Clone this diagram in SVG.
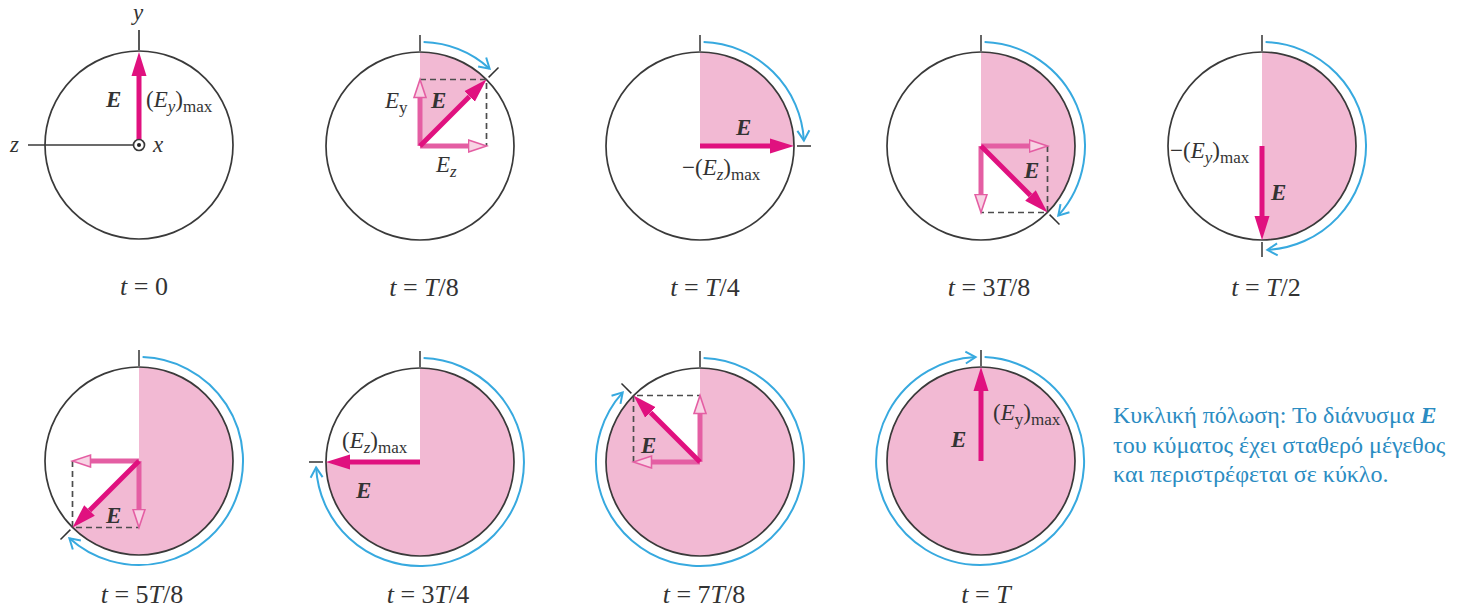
<svg xmlns="http://www.w3.org/2000/svg" width="1458" height="611" viewBox="0 0 1458 611">
<style>
.bg{fill:#ffffff}
.circ{fill:none;stroke:#3a3a3a;stroke-width:1.7}
.pink{fill:#f2b9d3;stroke:none}
.vec{stroke:#e0117f;stroke-width:5;fill:none;marker-end:url(#ah)}
.comp{stroke:#e45ea3;stroke-width:5;fill:none;marker-end:url(#hh)}
.dash{stroke:#4d4d4d;stroke-width:1.7;stroke-dasharray:6 4;fill:none}
.rot{fill:none;stroke:#37a9df;stroke-width:2;marker-end:url(#oh)}
.tick{stroke:#333333;stroke-width:1.5}
.ax{stroke:#3a3a3a;stroke-width:1.7;fill:none}
text{font-family:"Liberation Serif","DejaVu Serif","Times New Roman",serif}
.lbl{font-size:23px;fill:#333333}
.E{font-weight:bold;font-style:italic}
.it{font-style:italic}
.sub{font-size:17px}
.t{font-size:26px;fill:#333333}
.cap{font-size:24px;fill:#2b8cc2}
</style>
<defs>
<marker id="ah" markerUnits="userSpaceOnUse" markerWidth="26" markerHeight="18" viewBox="0 -9 26 18" refX="0" refY="0" orient="auto"><path d="M0,-7.5 L24,0 L0,7.5 Z" fill="#e0117f"/></marker>
<marker id="hh" markerUnits="userSpaceOnUse" markerWidth="22" markerHeight="16" viewBox="-1 -8 22 16" refX="0" refY="0" orient="auto"><path d="M0,-6 L18,0 L0,6 Z" fill="#f8d3e4" stroke="#e45ea3" stroke-width="1.6"/></marker>
<marker id="oh" markerUnits="userSpaceOnUse" markerWidth="16" markerHeight="16" viewBox="-13 -8 16 16" refX="0" refY="0" orient="auto"><path d="M-10,-6 L0,0 L-10,6" fill="none" stroke="#37a9df" stroke-width="2"/></marker>
</defs>
<rect class="bg" x="0" y="0" width="1458" height="611"/>

<g id="panel-t0">
<circle class="circ" cx="139" cy="145" r="94"/>
<line class="ax" x1="28" y1="145" x2="139" y2="145"/>
<line class="ax" x1="139" y1="30" x2="139" y2="50"/>
<line class="vec" x1="139" y1="145" x2="139" y2="76"/>
<circle cx="139" cy="145" r="5.5" fill="#ffffff" stroke="#3a3a3a" stroke-width="1.7"/>
<circle cx="139" cy="145" r="2" fill="#222222"/>
<text class="lbl it" x="133" y="20">y</text>
<text class="lbl it" x="10" y="152">z</text>
<text class="lbl it" x="153" y="152">x</text>
<text class="lbl E" x="106" y="107">E</text>
<text class="lbl" x="146" y="107">(<tspan class="it">E</tspan><tspan class="sub it" dy="5">y</tspan><tspan dy="-5">)</tspan><tspan class="sub" dy="5">max</tspan></text>
<text class="t" x="144" y="295" text-anchor="middle"><tspan class="it">t</tspan> = 0</text>
</g>

<g id="panel-t1">
<path class="pink" d="M420,146 L420,52 A94,94 0 0 1 486.5,79.5 Z"/>
<circle class="circ" cx="420" cy="146" r="94"/>
<path class="dash" d="M420,79.5 H486.5 V146"/>
<line class="comp" x1="420" y1="146" x2="420" y2="97.5"/>
<line class="comp" x1="420" y1="146" x2="468.5" y2="146"/>
<line class="vec" x1="420" y1="146" x2="469.5" y2="96.5"/>
<path class="rot" d="M423.6,42.1 A104,104 0 0 1 489.6,68.7"/>
<line class="tick" x1="420" y1="51" x2="420" y2="35"/>
<line class="tick" x1="488.6" y1="77.4" x2="498.5" y2="67.5"/>
<text class="lbl" x="385" y="108"><tspan class="it">E</tspan><tspan class="sub" dy="5">y</tspan></text>
<text class="lbl E" x="431" y="108">E</text>
<text class="lbl" x="436" y="172"><tspan class="it">E</tspan><tspan class="sub it" dy="5">z</tspan></text>
<text class="t" x="424" y="296" text-anchor="middle"><tspan class="it">t</tspan> = <tspan class="it">T</tspan>/8</text>
</g>

<g id="panel-t2">
<path class="pink" d="M700,146 L700,52 A94,94 0 0 1 794,146 Z"/>
<circle class="circ" cx="700" cy="146" r="94"/>
<line class="vec" x1="700" y1="146" x2="770" y2="146"/>
<path class="rot" d="M703.6,42.1 A104,104 0 0 1 803.9,140.6"/>
<line class="tick" x1="700" y1="51" x2="700" y2="35"/>
<line class="tick" x1="797" y1="146" x2="811" y2="146"/>
<text class="lbl E" x="736" y="135">E</text>
<text class="lbl" x="682" y="175">−(<tspan class="it">E</tspan><tspan class="sub it" dy="5">z</tspan><tspan dy="-5">)</tspan><tspan class="sub" dy="5">max</tspan></text>
<text class="t" x="705" y="296" text-anchor="middle"><tspan class="it">t</tspan> = <tspan class="it">T</tspan>/4</text>
</g>

<g id="panel-t3">
<path class="pink" d="M981,146 L981,52 A94,94 0 0 1 1047.5,212.5 Z"/>
<circle class="circ" cx="981" cy="146" r="94"/>
<path class="dash" d="M1047.5,146 V212.5 H981"/>
<line class="comp" x1="981" y1="146" x2="1029.5" y2="146"/>
<line class="comp" x1="981" y1="146" x2="981" y2="194.5"/>
<line class="vec" x1="981" y1="146" x2="1030.5" y2="195.5"/>
<path class="rot" d="M984.6,42.1 A104,104 0 0 1 1058.3,215.6"/>
<line class="tick" x1="981" y1="51" x2="981" y2="35"/>
<line class="tick" x1="1049.6" y1="214.6" x2="1059.5" y2="224.5"/>
<text class="lbl E" x="1024" y="178">E</text>
<text class="t" x="989" y="296" text-anchor="middle"><tspan class="it">t</tspan> = 3<tspan class="it">T</tspan>/8</text>
</g>

<g id="panel-t4">
<path class="pink" d="M1262,52 A94,94 0 0 1 1262,240 Z"/>
<circle class="circ" cx="1262" cy="146" r="94"/>
<line class="vec" x1="1262" y1="146" x2="1262" y2="216"/>
<path class="rot" d="M1265.6,42.1 A104,104 0 0 1 1267.4,249.9"/>
<line class="tick" x1="1262" y1="51" x2="1262" y2="35"/>
<line class="tick" x1="1262" y1="242" x2="1262" y2="257"/>
<text class="lbl" x="1170" y="158">−(<tspan class="it">E</tspan><tspan class="sub it" dy="5">y</tspan><tspan dy="-5">)</tspan><tspan class="sub" dy="5">max</tspan></text>
<text class="lbl E" x="1271" y="200">E</text>
<text class="t" x="1266" y="296" text-anchor="middle"><tspan class="it">t</tspan> = <tspan class="it">T</tspan>/2</text>
</g>

<g id="panel-t5">
<path class="pink" d="M139,461 L139,367 A94,94 0 1 1 72.5,527.5 Z"/>
<circle class="circ" cx="139" cy="461" r="94"/>
<path class="dash" d="M72.5,461 V527.5 H139"/>
<line class="comp" x1="139" y1="461" x2="90.5" y2="461"/>
<line class="comp" x1="139" y1="461" x2="139" y2="509.5"/>
<line class="vec" x1="139" y1="461" x2="89.5" y2="510.5"/>
<path class="rot" d="M142.6,357.1 A104,104 0 1 1 69.4,538.3"/>
<line class="tick" x1="139" y1="366" x2="139" y2="350"/>
<line class="tick" x1="70.4" y1="529.6" x2="60.5" y2="539.5"/>
<text class="lbl E" x="106" y="523">E</text>
<text class="t" x="142" y="603" text-anchor="middle"><tspan class="it">t</tspan> = 5<tspan class="it">T</tspan>/8</text>
</g>

<g id="panel-t6">
<path class="pink" d="M420,462 L420,368 A94,94 0 1 1 326,462 Z"/>
<circle class="circ" cx="420" cy="462" r="94"/>
<line class="vec" x1="420" y1="462" x2="350" y2="462"/>
<path class="rot" d="M423.6,358.1 A104,104 0 1 1 316.1,467.4"/>
<line class="tick" x1="420" y1="367" x2="420" y2="351"/>
<line class="tick" x1="323" y1="462" x2="309" y2="462"/>
<text class="lbl" x="342" y="448">(<tspan class="it">E</tspan><tspan class="sub it" dy="5">z</tspan><tspan dy="-5">)</tspan><tspan class="sub" dy="5">max</tspan></text>
<text class="lbl E" x="356" y="498">E</text>
<text class="t" x="428" y="603" text-anchor="middle"><tspan class="it">t</tspan> = 3<tspan class="it">T</tspan>/4</text>
</g>

<g id="panel-t7">
<path class="pink" d="M700,462 L700,368 A94,94 0 1 1 633.5,395.5 Z"/>
<circle class="circ" cx="700" cy="462" r="94"/>
<path class="dash" d="M633.5,462 V395.5 H700"/>
<line class="comp" x1="700" y1="462" x2="651.5" y2="462"/>
<line class="comp" x1="700" y1="462" x2="700" y2="413.5"/>
<line class="vec" x1="700" y1="462" x2="650.5" y2="412.5"/>
<path class="rot" d="M703.6,358.1 A104,104 0 1 1 622.7,392.4"/>
<line class="tick" x1="700" y1="367" x2="700" y2="351"/>
<line class="tick" x1="631.4" y1="393.4" x2="621.5" y2="383.5"/>
<text class="lbl E" x="641" y="453">E</text>
<text class="t" x="704" y="603" text-anchor="middle"><tspan class="it">t</tspan> = 7<tspan class="it">T</tspan>/8</text>
</g>

<g id="panel-t8">
<circle class="pink" cx="981" cy="461" r="94"/>
<circle class="circ" cx="981" cy="461" r="94"/>
<line class="vec" x1="981" y1="461" x2="981" y2="391"/>
<path class="rot" d="M984.6,357.1 A104,104 0 1 1 975.6,357.1"/>
<line class="tick" x1="981" y1="366" x2="981" y2="350"/>
<text class="lbl" x="993" y="420">(<tspan class="it">E</tspan><tspan class="sub" dy="5">y</tspan><tspan dy="-5">)</tspan><tspan class="sub" dy="5">max</tspan></text>
<text class="lbl E" x="951" y="447">E</text>
<text class="t" x="986" y="603" text-anchor="middle"><tspan class="it">t</tspan> = <tspan class="it">T</tspan></text>
</g>

<g id="caption">
<text class="cap" x="1113" y="423">Κυκλική πόλωση: Το διάνυσμα <tspan class="E">E</tspan></text>
<text class="cap" x="1113" y="453">του κύματος έχει σταθερό μέγεθος</text>
<text class="cap" x="1113" y="482">και περιστρέφεται σε κύκλο.</text>
</g>
</svg>
